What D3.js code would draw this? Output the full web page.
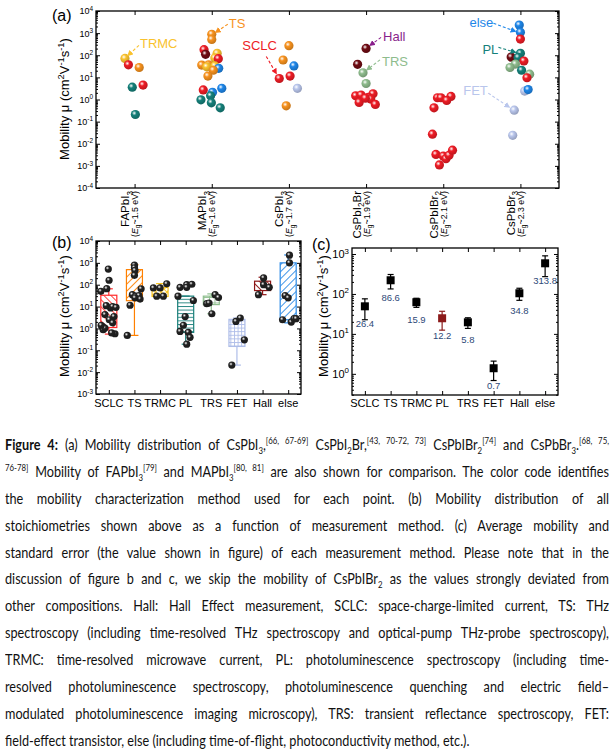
<!DOCTYPE html>
<html lang="en">
<head>
<meta charset="UTF-8">
<title>Mobility distribution</title>
<script src="https://d3js.org/d3.v7.min.js"></script>
<style>
  body { margin: 0; background: #fff; }
  svg { position: absolute; left: 0; top: 0; font-family: "Liberation Sans", Arial, sans-serif; }
  #cap { position: absolute; left: 5px; top: 431px; width: 604px; font-family: Lato, "Open Sans", sans-serif; font-size: 15px; color: #111; transform-origin: 0 0; }
  .ln { line-height: 26.9px; height: 26.9px; text-align: justify; text-align-last: justify; }
  .ln.last { text-align-last: left; }
  #cap sub, #cap sup { font-size: 0.62em; line-height: 0; }
</style>
</head>
<body>
<svg id="chart" width="614" height="430"></svg>
<div id="cap">
<div class="ln"><b>Figure 4:</b> (a) Mobility distribution of CsPbI<sub>3</sub>,<sup>[66, 67-69]</sup> CsPbI<sub>2</sub>Br,<sup>[43, 70-72, 73]</sup> CsPbIBr<sub>2</sub><sup>[74]</sup> and CsPbBr<sub>3</sub>.<sup>[68, 75,</sup></div>
<div class="ln"><sup>76-78]</sup> Mobility of FAPbI<sub>3</sub><sup>[79]</sup> and MAPbI<sub>3</sub><sup>[80, 81]</sup> are also shown for comparison. The color code identifies</div>
<div class="ln">the mobility characterization method used for each point. (b) Mobility distribution of all</div>
<div class="ln">stoichiometries shown above as a function of measurement method. (c) Average mobility and</div>
<div class="ln">standard error (the value shown in figure) of each measurement method. Please note that in the</div>
<div class="ln">discussion of figure b and c, we skip the mobility of CsPbIBr<sub>2</sub> as the values strongly deviated from</div>
<div class="ln">other compositions. Hall: Hall Effect measurement, SCLC: space-charge-limited current, TS: THz</div>
<div class="ln">spectroscopy (including time-resolved THz spectroscopy and optical-pump THz-probe spectroscopy),</div>
<div class="ln">TRMC: time-resolved microwave current, PL: photoluminescence spectroscopy (including time-</div>
<div class="ln">resolved photoluminescence spectroscopy, photoluminescence quenching and electric field–</div>
<div class="ln">modulated photoluminescence imaging microscopy), TRS: transient reflectance spectroscopy, FET:</div>
<div class="ln last">field-effect transistor, else (including time-of-flight, photoconductivity method, etc.).</div>
</div>
<script>
const compounds = ["FAPbI_{3}", "MAPbI_{3}", "CsPbI_{3}", "CsPbI_{2}Br", "CsPbIBr_{2}", "CsPbBr_{3}"];
const bandGaps = ["1.5", "1.6", "1.7", "1.9", "2.1", "2.3"];
const methods = ["SCLC", "TS", "TRMC", "PL", "TRS", "FET", "Hall", "else"];

// (a) [compound index, method, mobility, jitter in category units]
const aPoints = [
  [0, "TRMC", 72, -0.125], [0, "SCLC", 37, -0.08], [0, "TS", 28, 0.06], [0, "SCLC", 4.5, 0.11],
  [0, "PL", 3.6, -0.03], [0, "PL", 0.21, 0.01],
  [1, "TS", 890, 0], [1, "TS", 520, 0], [1, "SCLC", 178, -0.1], [1, "Hall", 110, -0.08],
  [1, "TRMC", 122, 0.07], [1, "TRMC", 75, 0.04], [1, "SCLC", 70, 0.085], [1, "TS", 36, -0.13],
  [1, "TS", 37, -0.04], [1, "TRMC", 30, -0.065], [1, "TRMC", 33, 0.04], [1, "else", 25.6, 0.09],
  [1, "TS", 21, 0.02], [1, "TS", 11.5, -0.05], [1, "SCLC", 2.7, -0.11], [1, "else", 2.1, 0.01],
  [1, "else", 3.2, 0.13], [1, "PL", 1.47, -0.015], [1, "PL", 0.97, -0.14], [1, "PL", 0.71, -0.005],
  [1, "PL", 0.42, 0.11],
  [2, "TS", 270, 0], [2, "TS", 61, -0.075], [2, "else", 33, 0.065], [2, "SCLC", 11.5, 0.015],
  [2, "SCLC", 8.9, -0.125], [2, "FET", 3.2, 0.11], [2, "TS", 0.52, -0.035],
  [3, "Hall", 204, 0], [3, "Hall", 39, -0.11], [3, "TRS", 16, -0.04], [3, "TRS", 5.3, 0],
  [3, "SCLC", 1.47, -0.135], [3, "SCLC", 1.6, -0.065], [3, "SCLC", 1.8, 0.09], [3, "SCLC", 1.24, 0.03],
  [3, "SCLC", 1.05, 0.06], [3, "SCLC", 0.74, -0.09], [3, "SCLC", 0.6, 0.12], [3, "SCLC", 1.15, -0.01],
  [4, "SCLC", 1.2, -0.075], [4, "SCLC", 1.2, -0.03], [4, "SCLC", 1.38, 0.1], [4, "SCLC", 0.91, 0.045],
  [4, "SCLC", 0.42, -0.12], [4, "SCLC", 0.027, -0.14], [4, "SCLC", 0.0033, -0.095], [4, "SCLC", 0.0028, 0],
  [4, "SCLC", 0.0021, 0.035], [4, "SCLC", 0.003, 0.075], [4, "SCLC", 0.0051, 0.12], [4, "SCLC", 0.0011, -0.05],
  [5, "else", 2330, -0.015], [5, "else", 1090, 0], [5, "SCLC", 540, 0], [5, "PL", 122, 0],
  [5, "Hall", 83, -0.12], [5, "PL", 80, -0.03], [5, "SCLC", 55, 0.045], [5, "TRS", 40, -0.065],
  [5, "TRS", 28, -0.135], [5, "PL", 21, 0.015], [5, "TRS", 14, 0.12], [5, "SCLC", 9.6, 0.085],
  [5, "FET", 2.4, 0.055], [5, "else", 2.8, 0.1], [5, "FET", 0.33, -0.08], [5, "FET", 0.024, -0.1]
];

// (b) [method index, jitter in category units, mobility]
const bPoints = [
  [0, -0.02, 520], [0, 0.01, 160], [0, -0.08, 66], [0, -0.31, 50], [0, 0.07, 8.7], [0, -0.15, 4.3],
  [0, 0.15, 10], [0, 0.28, 9.2], [0, 0.02, 2.5], [0, 0.2, 3.5], [0, 0.15, 1.8], [0, -0.24, 1.2],
  [0, -0.22, 0.87], [0, -0.15, 1.04], [0, 0.24, 0.57], [0, 0.11, 0.62], [0, -0.1, 11], [0, -0.3, 1.4],
  [1, 0, 780], [1, 0, 590], [1, 0.02, 450], [1, 0, 270], [1, 0.26, 65], [1, -0.08, 35],
  [1, 0.05, 30], [1, 0.18, 32], [1, 0.22, 22], [1, 0.02, 25], [1, -0.17, 11.5], [1, -0.28, 0.48],
  [2, -0.26, 71], [2, 0, 71], [2, 0.26, 110], [2, -0.13, 30], [2, 0.13, 30],
  [3, -0.22, 76], [3, 0.04, 100], [3, 0.04, 76], [3, 0.24, 105], [3, -0.3, 30], [3, 0.3, 19],
  [3, -0.02, 3.5], [3, -0.09, 1.4], [3, -0.22, 0.73], [3, 0.1, 0.66], [3, 0.17, 0.39], [3, 0.04, 0.19],
  [4, -0.18, 13.5], [4, -0.09, 14.5], [4, 0.15, 35], [4, 0.28, 26], [4, 0.02, 4.7],
  [5, -0.04, 2.1], [5, 0.13, 3.0], [5, 0.29, 0.3], [5, -0.2, 0.021],
  [6, 0.04, 205], [6, 0.04, 100], [6, 0.26, 76], [6, -0.16, 35],
  [7, 0.05, 2250], [7, 0.05, 1000], [7, -0.12, 32], [7, 0, 25], [7, -0.22, 2.5], [7, 0.12, 1.95],
  [7, 0.23, 2.8], [7, 0.31, 2.8]
];
const bQ1 = [1.1, 18.6, 29, 0.66, 12.3, 0.15, 54, 2.5];
const bQ3 = [33, 490, 75, 30, 30, 2.6, 145, 1000];
const bWhiskLow = [0.55, 0.48, 29, 0.19, 4.7, 0.021, 35, 1.8];
const bWhiskHigh = [65, 830, 112, 30, 38, 3.0, 220, 2300];

// (c) mean mobility and standard error
const cMean = [49, 220, 62, 24.6, 19.5, 1.38, 104, 585];
const cErr = [26.4, 86.6, 15.9, 12.2, 5.8, 0.7, 34.8, 313.8];

const methodColor = { SCLC: "#ee1c25", TS: "#f7921e", TRMC: "#f9c22e", PL: "#15807a", TRS: "#8ebc8d",
  FET: "#b9c6ec", Hall: "#6f0c13", else: "#1e86e8" };
const boxColor = ["#ff2a2a", "#ff8000", "#f8c21c", "#1a7f7a", "#8fbf8f", "#aebde8", "#8b1515", "#2b8ae6"];

const svg = d3.select("#chart");
const defs = svg.append("defs");

// text with _{sub} and ^{sup}
function rich(text, str, sz) {
  let shift = 0;
  str.split(/([_^]\{[^}]*\})/).filter(s => s).forEach(p => {
    if (p[0] === "_" || p[0] === "^") {
      const dy = p[0] === "^" ? -0.42 * sz : 0.3 * sz;
      text.append("tspan").attr("dy", dy - shift).style("font-size", (0.72 * sz) + "px").text(p.slice(2, -1));
      shift = dy;
    } else {
      text.append("tspan").attr("dy", -shift).text(p);
      shift = 0;
    }
  });
  return text;
}

function sphere(id, color) {
  const g = defs.append("radialGradient").attr("id", id).attr("cx", "38%").attr("cy", "35%").attr("r", "70%");
  g.append("stop").attr("offset", "0%").attr("stop-color", "#fff");
  g.append("stop").attr("offset", "35%").attr("stop-color", color);
  g.append("stop").attr("offset", "100%").attr("stop-color", d3.color(color).darker(0.7));
}
Object.entries(methodColor).forEach(([k, c]) => sphere("sp-" + k, c));
sphere("sp-black", "#222");

function frame(g, x, y, nCat, lblSize) {
  const [x0, x1] = x.range();
  const [yb, yt] = y.range();
  const [lo, hi] = y.domain();
  const e0 = Math.ceil(Math.log10(lo) - 1e-9), e1 = Math.floor(Math.log10(hi) + 1e-9);
  const majors = d3.range(e0, e1 + 1).map(e => Math.pow(10, e));
  const minors = [];
  for (let e = e0 - 1; e <= e1; e++) for (let k = 2; k < 10; k++) {
    const v = k * Math.pow(10, e);
    if (v > lo && v < hi) minors.push(v);
  }
  const cats = d3.range(nCat);
  const add = (tr, axis) => g.append("g").attr("transform", tr).call(axis).call(s => s.select(".domain").remove());
  add(`translate(${x0},0)`, d3.axisLeft(y).tickValues(majors).tickSizeInner(-4).tickSizeOuter(0).tickFormat(""));
  add(`translate(${x0},0)`, d3.axisLeft(y).tickValues(minors).tickSizeInner(-2).tickSizeOuter(0).tickFormat(""));
  add(`translate(${x1},0)`, d3.axisRight(y).tickValues(majors).tickSizeInner(-4).tickSizeOuter(0).tickFormat(""));
  add(`translate(${x1},0)`, d3.axisRight(y).tickValues(minors).tickSizeInner(-2).tickSizeOuter(0).tickFormat(""));
  add(`translate(0,${yb})`, d3.axisBottom(x).tickValues(cats).tickSizeInner(-4).tickSizeOuter(0).tickFormat(""));
  add(`translate(0,${yt})`, d3.axisTop(x).tickValues(cats).tickSizeInner(-4).tickSizeOuter(0).tickFormat(""));
  g.append("rect").attr("x", x0).attr("y", yt).attr("width", x1 - x0).attr("height", yb - yt)
    .attr("fill", "none").attr("stroke", "#000").attr("stroke-width", 1.3);
  majors.forEach(v => {
    const t = g.append("text").attr("x", x0 - 3).attr("y", y(v) + lblSize * 0.38)
      .attr("text-anchor", "end").style("font-size", lblSize + "px");
    rich(t, "10^{" + Math.round(Math.log10(v)) + "}", lblSize);
  });
}

function yTitle(g, cx, cy, sz) {
  const t = g.append("text").attr("transform", `translate(${cx},${cy}) rotate(-90)`)
    .attr("text-anchor", "middle").style("font-size", sz + "px");
  rich(t, "Mobility \u03bc (cm^{2}V^{-1}s^{-1})", sz);
}

// ---------- (a) ----------
const gA = svg.append("g");
const xA = d3.scaleLinear().domain([-0.5, 5.5]).range([96, 559]);
const yA = d3.scaleLog().domain([1e-4, 1e4]).range([188, 11]);
frame(gA, xA, yA, compounds.length, 9);
yTitle(gA, 69, 99, 13);
gA.append("text").attr("x", 52).attr("y", 21).style("font-size", "16px").text("(a)");

compounds.forEach((c, i) => {
  const t1 = gA.append("text").attr("transform", `translate(${xA(i) - 5.5},191) rotate(-90)`)
    .attr("text-anchor", "end").style("font-size", "11.5px");
  rich(t1, c, 11.5);
  const t2 = gA.append("text").attr("transform", `translate(${xA(i) + 3.5},191) rotate(-90)`)
    .attr("text-anchor", "end").style("font-size", "8.8px");
  t2.append("tspan").text("(");
  t2.append("tspan").style("font-style", "italic").text("E");
  t2.append("tspan").attr("dy", 2.2).style("font-size", "6.5px").text("g");
  t2.append("tspan").attr("dy", -2.2).text("~" + bandGaps[i] + " eV)");
});

gA.append("g").selectAll("circle").data(aPoints).join("circle")
  .attr("cx", d => xA(d[0] + d[3])).attr("cy", d => yA(d[2])).attr("r", 4.6)
  .attr("fill", d => `url(#sp-${d[1]})`);

// annotation labels with dashed arrows: target point, text offset, arrow tail/head offsets
const annots = [
  { label: "TRMC", color: "#f9c22e", pt: [0, -0.125, 72], txt: [15, -15], tail: [14, -13], head: [3, -3] },
  { label: "TS", color: "#f7921e", pt: [1, 0, 890], txt: [17, -11], tail: [16, -10], head: [4, -2] },
  { label: "SCLC", color: "#ee1c25", pt: [2, -0.125, 8.9], txt: [-37, -33], tail: [-13, -22], head: [-3, -5] },
  { label: "Hall", color: "#8a1f8c", pt: [3, 0, 204], txt: [17, -12], tail: [15, -11], head: [4, -3] },
  { label: "TRS", color: "#8ebc8d", pt: [3, -0.04, 16], txt: [19, -11], tail: [17, -13], head: [4, -3] },
  { label: "else", color: "#1e86e8", pt: [5, 0, 1090], txt: [-51, -10], tail: [-27, -9], head: [-5, -1] },
  { label: "PL", color: "#15807a", pt: [5, 0, 122], txt: [-38, -4], tail: [-22, -6], head: [-5, -1] },
  { label: "FET", color: "#b9c6ec", pt: [5, -0.08, 0.33], txt: [-51, -20], tail: [-26, -17], head: [-5, -3] }
];
annots.forEach((a, i) => {
  defs.append("marker").attr("id", "ah" + i).attr("viewBox", "0 0 10 10").attr("refX", 8).attr("refY", 5)
    .attr("markerWidth", 6).attr("markerHeight", 6).attr("markerUnits", "userSpaceOnUse").attr("orient", "auto")
    .append("path").attr("d", "M0,0 L10,5 L0,10 z").attr("fill", a.color);
  const px = xA(a.pt[0] + a.pt[1]), py = yA(a.pt[2]);
  gA.append("line").attr("x1", px + a.tail[0]).attr("y1", py + a.tail[1])
    .attr("x2", px + a.head[0]).attr("y2", py + a.head[1])
    .attr("stroke", a.color).attr("stroke-width", 1.1).attr("stroke-dasharray", "3,2")
    .attr("marker-end", `url(#ah${i})`);
  gA.append("text").attr("x", px + a.txt[0]).attr("y", py + a.txt[1] + 4.5)
    .attr("fill", a.color).style("font-size", "13px").text(a.label);
});

// ---------- (b) ----------
const gB = svg.append("g");
const xB = d3.scaleLinear().domain([-0.5, 7.5]).range([96, 301]);
const yB = d3.scaleLog().domain([1e-3, 1e4]).range([394, 241]);

// hatch patterns
const hatch = [["diag", 45, 5], ["diag", -45, 5], ["cross", 45, 4], ["horiz", 0, 3.6],
  ["grid", 0, 5.5], ["grid", 0, 3.6], ["diag", 45, 5], ["diag", -45, 5]];
methods.forEach((m, i) => {
  const [kind, ang, s] = hatch[i];
  const p = defs.append("pattern").attr("id", "pat" + i).attr("patternUnits", "userSpaceOnUse")
    .attr("width", s).attr("height", s).attr("patternTransform", `rotate(${ang})`);
  p.append("line").attr("x1", 0).attr("y1", 0.5).attr("x2", s).attr("y2", 0.5)
    .attr("stroke", boxColor[i]).attr("stroke-width", 0.9);
  if (kind !== "diag" && kind !== "horiz") {
    p.append("line").attr("x1", 0.5).attr("y1", 0).attr("x2", 0.5).attr("y2", s)
      .attr("stroke", boxColor[i]).attr("stroke-width", 0.9);
  }
});

methods.forEach((m, i) => {
  const cx = xB(i), hw = 8, cw = 4;
  const col = boxColor[i];
  const g = gB.append("g").attr("stroke", col).attr("stroke-width", 1.2);
  g.append("line").attr("x1", cx).attr("x2", cx).attr("y1", yB(bQ3[i])).attr("y2", yB(bWhiskHigh[i]));
  g.append("line").attr("x1", cx).attr("x2", cx).attr("y1", yB(bQ1[i])).attr("y2", yB(bWhiskLow[i]));
  g.append("line").attr("x1", cx - cw).attr("x2", cx + cw).attr("y1", yB(bWhiskHigh[i])).attr("y2", yB(bWhiskHigh[i]));
  g.append("line").attr("x1", cx - cw).attr("x2", cx + cw).attr("y1", yB(bWhiskLow[i])).attr("y2", yB(bWhiskLow[i]));
  g.append("rect").attr("x", cx - hw).attr("width", 2 * hw)
    .attr("y", yB(bQ3[i])).attr("height", yB(bQ1[i]) - yB(bQ3[i]))
    .attr("fill", `url(#pat${i})`);
});

gB.append("g").selectAll("circle").data(bPoints).join("circle")
  .attr("cx", d => xB(d[0] + d[1])).attr("cy", d => yB(d[2])).attr("r", 3.6)
  .attr("fill", "url(#sp-black)");

frame(gB, xB, yB, methods.length, 9);
yTitle(gB, 69, 316, 13);
gB.append("text").attr("x", 52).attr("y", 248).style("font-size", "16px").text("(b)");
methods.forEach((m, i) => gB.append("text").attr("x", xB(i)).attr("y", 407)
  .attr("text-anchor", "middle").style("font-size", "11px").text(m));

// ---------- (c) ----------
const gC = svg.append("g");
const xC = d3.scaleLinear().domain([-0.5, 7.5]).range([352, 558]);
const yC = d3.scaleLog().domain([Math.pow(10, -0.53), Math.pow(10, 3.15)]).range([395, 248]);
frame(gC, xC, yC, methods.length, 11);
yTitle(gC, 328, 316, 13);
gC.append("text").attr("x", 312).attr("y", 250).style("font-size", "16px").text("(c)");
methods.forEach((m, i) => gC.append("text").attr("x", xC(i)).attr("y", 407)
  .attr("text-anchor", "middle").style("font-size", "11px").text(m));

methods.forEach((m, i) => {
  const cx = xC(i), col = m === "PL" ? "#8b1a1a" : "#000";
  const lo = yC(cMean[i] - cErr[i]), hi = yC(cMean[i] + cErr[i]), my = yC(cMean[i]);
  const g = gC.append("g").attr("stroke", col).attr("stroke-width", 1.2);
  g.append("line").attr("x1", cx).attr("x2", cx).attr("y1", lo).attr("y2", hi);
  g.append("line").attr("x1", cx - 3).attr("x2", cx + 3).attr("y1", lo).attr("y2", lo);
  g.append("line").attr("x1", cx - 3).attr("x2", cx + 3).attr("y1", hi).attr("y2", hi);
  gC.append("rect").attr("x", cx - 4).attr("y", my - 4).attr("width", 8).attr("height", 8).attr("fill", col);
  gC.append("text").attr("x", cx).attr("y", my + 21).attr("text-anchor", "middle")
    .attr("fill", "#2e4a78").style("font-size", "9.5px").text(cErr[i].toFixed(1));
});

// squeeze caption horizontally so the widest line fits the column
const cap = document.getElementById("cap");
let widest = 0;
cap.querySelectorAll(".ln").forEach(l => {
  const s = document.createElement("span");
  s.style.whiteSpace = "nowrap";
  s.style.font = getComputedStyle(l).font;
  s.innerHTML = l.innerHTML;
  document.body.appendChild(s);
  widest = Math.max(widest, s.getBoundingClientRect().width);
  s.remove();
});
const squeeze = Math.min(1, 602 / widest);
cap.style.width = (604 / squeeze) + "px";
cap.style.transform = `scaleX(${squeeze})`;
</script>
</body>
</html>
